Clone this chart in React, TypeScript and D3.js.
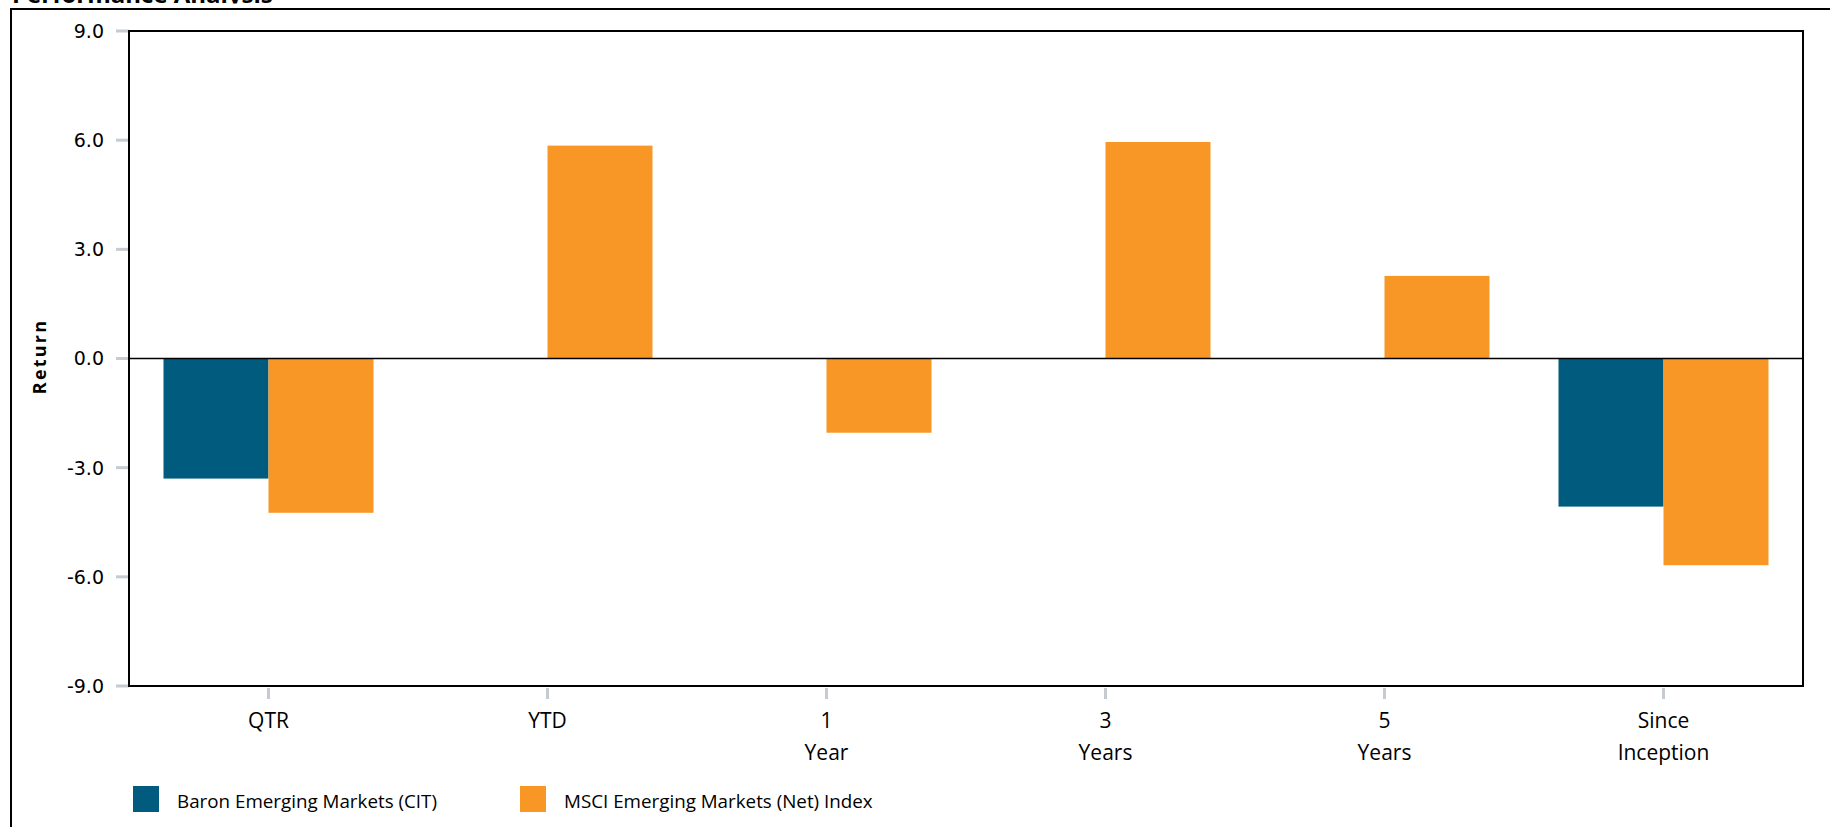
import React from "react";
import * as d3 from "d3";

const categories = ["QTR", "YTD", "1\nYear", "3\nYears", "5\nYears", "Since\nInception"];
const seriesNames = ["Baron Emerging Markets (CIT)", "MSCI Emerging Markets (Net) Index"];
const baronValues: (number | null)[] = [-3.3, null, null, null, null, -4.07];
const msciValues: (number | null)[] = [-4.24, 5.85, -2.04, 5.95, 2.27, -5.68];
const yTicks = [9, 6, 3, 0, -3, -6, -9];
const seriesColors = ["#005b7f", "#f99726"];

const W = 1830;
const H = 827;
const plot = { left: 129, top: 31, right: 1803, bottom: 686 };

export default function App() {
  React.useEffect(() => {
    document.body.style.margin = "0";
    document.body.style.overflow = "hidden";
  }, []);

  const y = d3.scaleLinear().domain([-9, 9]).range([plot.bottom, plot.top]);
  const x0 = d3.scaleBand<string>().domain(categories).range([plot.left, plot.right]);
  const bw = x0.bandwidth();
  const groupW = 210;
  const x1 = d3
    .scaleBand<string>()
    .domain(seriesNames)
    .range([(bw - groupW) / 2, (bw + groupW) / 2]);
  const allSeries = [baronValues, msciValues];

  const tickFont = "'DejaVu Sans', sans-serif";
  const labelFont = "'Open Sans', sans-serif";

  return (
    <svg width={W} height={H} style={{ position: "fixed", left: 0, top: 0, background: "#fff" }}>
      <defs>
        <clipPath id="titleClip">
          <rect x={0} y={-50} width={600} height={53.5} />
        </clipPath>
      </defs>
      <text
        x={12}
        y={2.5}
        fontFamily={labelFont}
        fontWeight="bold"
        fontSize={24}
        fill="#000"
        clipPath="url(#titleClip)"
      >
        Performance Analysis
      </text>
      {/* outer frame */}
      <rect x={11} y={9} width={W + 20} height={H + 20} fill="none" stroke="#000" strokeWidth={2} />

      {/* y ticks */}
      {yTicks.map((t) => (
        <g key={t}>
          <line x1={116} x2={plot.left} y1={y(t)} y2={y(t)} stroke="#c5cbd0" strokeWidth={3} />
          <text
            x={104}
            y={y(t)}
            dy="0.36em"
            textAnchor="end"
            fontFamily={tickFont}
            fontSize={19}
            fill="#000"
          >
            {t.toFixed(1)}
          </text>
        </g>
      ))}

      {/* bars */}
      {categories.map((c, i) => (
        <g key={c} transform={`translate(${x0(c)},0)`}>
          {allSeries.map((s, k) => {
            const v = s[i];
            if (v === null) return null;
            return (
              <rect
                key={k}
                x={x1(seriesNames[k])}
                width={x1.bandwidth()}
                y={y(Math.max(0, v))}
                height={Math.abs(y(v) - y(0))}
                fill={seriesColors[k]}
              />
            );
          })}
        </g>
      ))}

      {/* zero line */}
      <line x1={plot.left} x2={plot.right} y1={y(0)} y2={y(0)} stroke="#000" strokeWidth={1.5} />

      {/* plot border */}
      <rect
        x={plot.left}
        y={plot.top}
        width={plot.right - plot.left}
        height={plot.bottom - plot.top}
        fill="none"
        stroke="#000"
        strokeWidth={2}
      />

      {/* x ticks and labels */}
      {categories.map((c) => {
        const cx = (x0(c) as number) + bw / 2;
        const lines = c.split("\n");
        return (
          <g key={c}>
            <line x1={cx} x2={cx} y1={plot.bottom + 2} y2={plot.bottom + 13} stroke="#c5cbd0" strokeWidth={3} />
            {lines.map((ln, j) => (
              <text
                key={j}
                x={cx}
                y={728 + j * 32}
                textAnchor="middle"
                fontFamily={labelFont}
                fontSize={21}
                fill="#000"
              >
                {ln}
              </text>
            ))}
          </g>
        );
      })}

      {/* y axis title */}
      <text
        transform={`translate(46, ${y(0) - 2}) rotate(-90)`}
        textAnchor="middle"
        fontFamily={labelFont}
        fontWeight="bold"
        fontSize={18}
        letterSpacing={2.2}
        fill="#000"
      >
        Return
      </text>

      {/* legend */}
      {seriesNames.map((n, k) => {
        const lx = k === 0 ? 133 : 520;
        return (
          <g key={n}>
            <rect x={lx} y={786} width={26} height={26} fill={seriesColors[k]} />
            <text x={lx + 44} y={808} fontFamily={labelFont} fontSize={18.8} fill="#000">
              {n}
            </text>
          </g>
        );
      })}
    </svg>
  );
}
